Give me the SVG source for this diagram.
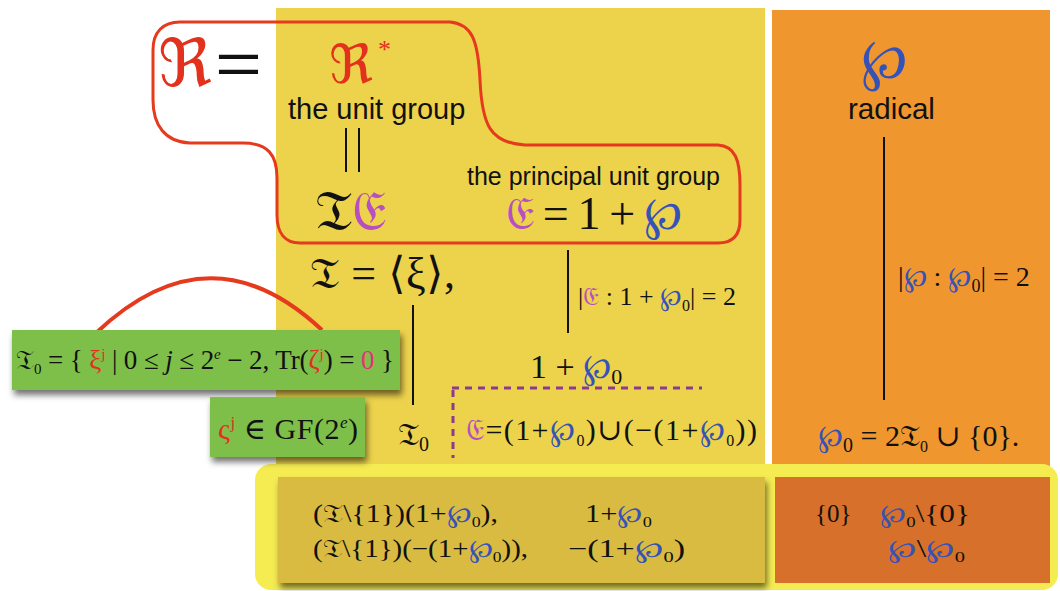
<svg xmlns="http://www.w3.org/2000/svg" width="1060" height="591" viewBox="0 0 1060 591">
<style>
.sans{font-family:"Liberation Sans",Arial,sans-serif;fill:#111}
.ser{font-family:"Liberation Serif","DejaVu Serif",serif;fill:#111}
.frak{font-family:"DejaVu Serif","DejaVu Sans","Noto Sans",serif}
.red{fill:#E2311D}
.pur{fill:#B84FC0}
.blu{fill:#3552B8}
.blk{fill:#111}
.line{stroke:#111;stroke-width:2;fill:none}
</style>
<defs>
<filter id="sh" x="-5%" y="-10%" width="115%" height="140%">
<feDropShadow dx="2" dy="5" stdDeviation="3" flood-color="#000" flood-opacity="0.55"/>
</filter>
</defs>
<rect width="1060" height="591" fill="#fff"/>
<g id="panels">
<rect x="276" y="8" width="489" height="460" fill="#EDD24C"/>
<rect x="772" y="10" width="278" height="458" fill="#F0962F"/>
<rect x="255" y="464" width="803" height="126" rx="16" fill="#F5EC52"/>
<rect x="278" y="477" width="487" height="106" fill="#D8BB40" filter="url(#sh)"/>
<rect x="775" y="477" width="275" height="106" fill="#D6702A"/>
</g>
<g id="connectors">
<path d="M180 22 L450 22 C472 24 478 40 480 80 C482 125 490 143 525 145 L718 145 C735 146 740 160 740 185 L740 220 C740 236 732 243 718 243 L300 243 C285 243 277 233 277 215 L277 178 C277 155 268 143 243 143 L190 143 C165 142 153 125 153 100 L153 50 C153 32 163 22 180 22 Z" fill="none" stroke="#E53A1E" stroke-width="3"/>
<line class="line" x1="346" y1="128" x2="346" y2="172" stroke-width="4"/>
<line class="line" x1="359" y1="128" x2="359" y2="172" stroke-width="4"/>
<line class="line" x1="413" y1="305" x2="413" y2="405"/>
<line class="line" x1="568" y1="250" x2="568" y2="333"/>
<line class="line" x1="884" y1="137" x2="884" y2="400"/>
<path d="M452 388 L702 388 M453 390 L453 458" fill="none" stroke="#8B3A8F" stroke-width="3" stroke-dasharray="7 6"/>
<path d="M96 333 Q210 225 322 330" fill="none" stroke="#E53A1E" stroke-width="4"/>
</g>
<g id="top-left">
<text x="158" y="86" font-size="66" class="frak red">ℜ</text>
<text x="215" y="84" font-size="60" class="sans" textLength="47" lengthAdjust="spacingAndGlyphs">=</text>
<text x="329" y="83" font-size="54" class="frak red">ℜ</text>
<text x="378" y="58" font-size="26" class="ser red">*</text>
<text x="288" y="119" font-size="29" class="sans">the unit group</text>
<text x="315" y="230" font-size="56" class="frak"><tspan class="blk">𝔗</tspan><tspan class="pur">𝔈</tspan></text>
<text x="467" y="185" font-size="25" class="sans">the principal unit group</text>
<text x="506" y="229" font-size="46" class="ser" textLength="176"><tspan class="frak pur">𝔈</tspan> = 1 + <tspan class="blu">℘</tspan></text>
</g>
<g id="right">
<text x="861" y="78" font-size="56" class="ser blu">℘</text>
<text x="848" y="119" font-size="29.5" class="sans">radical</text>
<text x="898" y="286" font-size="28" class="ser">|<tspan class="blu">℘</tspan> : <tspan class="blu">℘</tspan><tspan font-size="18" dy="6">0</tspan><tspan dy="-6">| = 2</tspan></text>
<text x="818" y="446" font-size="30" class="ser"><tspan class="blu">℘</tspan><tspan font-size="20" dy="6">0</tspan><tspan dy="-6"> = 2</tspan><tspan class="frak">𝔗</tspan><tspan font-size="16" dy="6">0</tspan><tspan dy="-6"> ∪ {0}.</tspan></text>
</g>
<g id="middle">
<text x="310" y="288" font-size="44" class="ser" textLength="145"><tspan class="frak">𝔗</tspan> = ⟨ξ⟩,</text>
<text x="398" y="445" font-size="32" class="ser"><tspan class="frak">𝔗</tspan><tspan font-size="20" dy="6">0</tspan></text>
<text x="578" y="305" font-size="26" class="ser">|<tspan class="frak pur">𝔈</tspan> : 1 + <tspan class="blu">℘</tspan><tspan font-size="16" dy="6">0</tspan><tspan dy="-6">| = 2</tspan></text>
<text x="530" y="378" font-size="34" class="ser">1 + <tspan class="blu">℘</tspan><tspan font-size="22" dy="6">0</tspan></text>
<text x="466" y="440" font-size="30" class="ser" textLength="291"><tspan class="frak pur">𝔈</tspan>=(1+<tspan class="blu">℘</tspan><tspan font-size="16" dy="6">0</tspan><tspan dy="-6">)∪(−(1+</tspan><tspan class="blu">℘</tspan><tspan font-size="16" dy="6">0</tspan><tspan dy="-6">))</tspan></text>
</g>
<g id="green1">
<rect x="12" y="330" width="388" height="60" fill="#7EBF48" filter="url(#sh)"/>
<text x="16" y="369" font-size="27" class="ser" textLength="378"><tspan class="frak">𝔗</tspan><tspan font-size="15" dy="5">0</tspan><tspan dy="-5"> = { </tspan><tspan class="red">ξ</tspan><tspan class="red" font-size="15" dy="-10">j</tspan><tspan dy="10"> | 0 ≤ </tspan><tspan font-style="italic">j</tspan> ≤ 2<tspan font-size="15" dy="-10" font-style="italic">e</tspan><tspan dy="10"> − 2,  Tr(</tspan><tspan class="red">ζ</tspan><tspan class="red" font-size="15" dy="-10">j</tspan><tspan dy="10">) = </tspan><tspan fill="#E5307A">0</tspan> }</text>
</g>
<g id="green2">
<rect x="210" y="397" width="155" height="60" fill="#7EBF48" filter="url(#sh)"/>
<text x="218" y="439" font-size="30" class="ser" textLength="140"><tspan class="red">ς</tspan><tspan class="red" font-size="17" dy="-11">j</tspan><tspan dy="11"> ∈ GF(2</tspan><tspan font-size="17" dy="-11" font-style="italic">e</tspan><tspan dy="11">)</tspan></text>
</g>
<g id="bottom">
<text x="313" y="522" font-size="25" class="ser" textLength="185" lengthAdjust="spacingAndGlyphs">(<tspan class="frak">𝔗</tspan>\{1})(1+<tspan class="blu">℘</tspan><tspan font-size="15" dy="5">0</tspan><tspan dy="-5">),</tspan></text>
<text x="585" y="522" font-size="25" class="ser" textLength="67" lengthAdjust="spacingAndGlyphs">1+<tspan class="blu">℘</tspan><tspan font-size="15" dy="5">0</tspan></text>
<text x="313" y="557" font-size="25" class="ser" textLength="215" lengthAdjust="spacingAndGlyphs">(<tspan class="frak">𝔗</tspan>\{1})(−(1+<tspan class="blu">℘</tspan><tspan font-size="15" dy="5">0</tspan><tspan dy="-5">)),</tspan></text>
<text x="568" y="557" font-size="25" class="ser" textLength="117" lengthAdjust="spacingAndGlyphs">−(1+<tspan class="blu">℘</tspan><tspan font-size="15" dy="5">0</tspan><tspan dy="-5">)</tspan></text>
<text x="815" y="522" font-size="25" class="ser">{0}</text>
<text x="880" y="522" font-size="25" class="ser" textLength="90" lengthAdjust="spacingAndGlyphs"><tspan class="blu">℘</tspan><tspan font-size="15" dy="5">0</tspan><tspan dy="-5">\{0}</tspan></text>
<text x="888" y="557" font-size="25" class="ser" textLength="77" lengthAdjust="spacingAndGlyphs"><tspan class="blu">℘</tspan>\<tspan class="blu">℘</tspan><tspan font-size="15" dy="5">0</tspan></text>
</g>
</svg>
